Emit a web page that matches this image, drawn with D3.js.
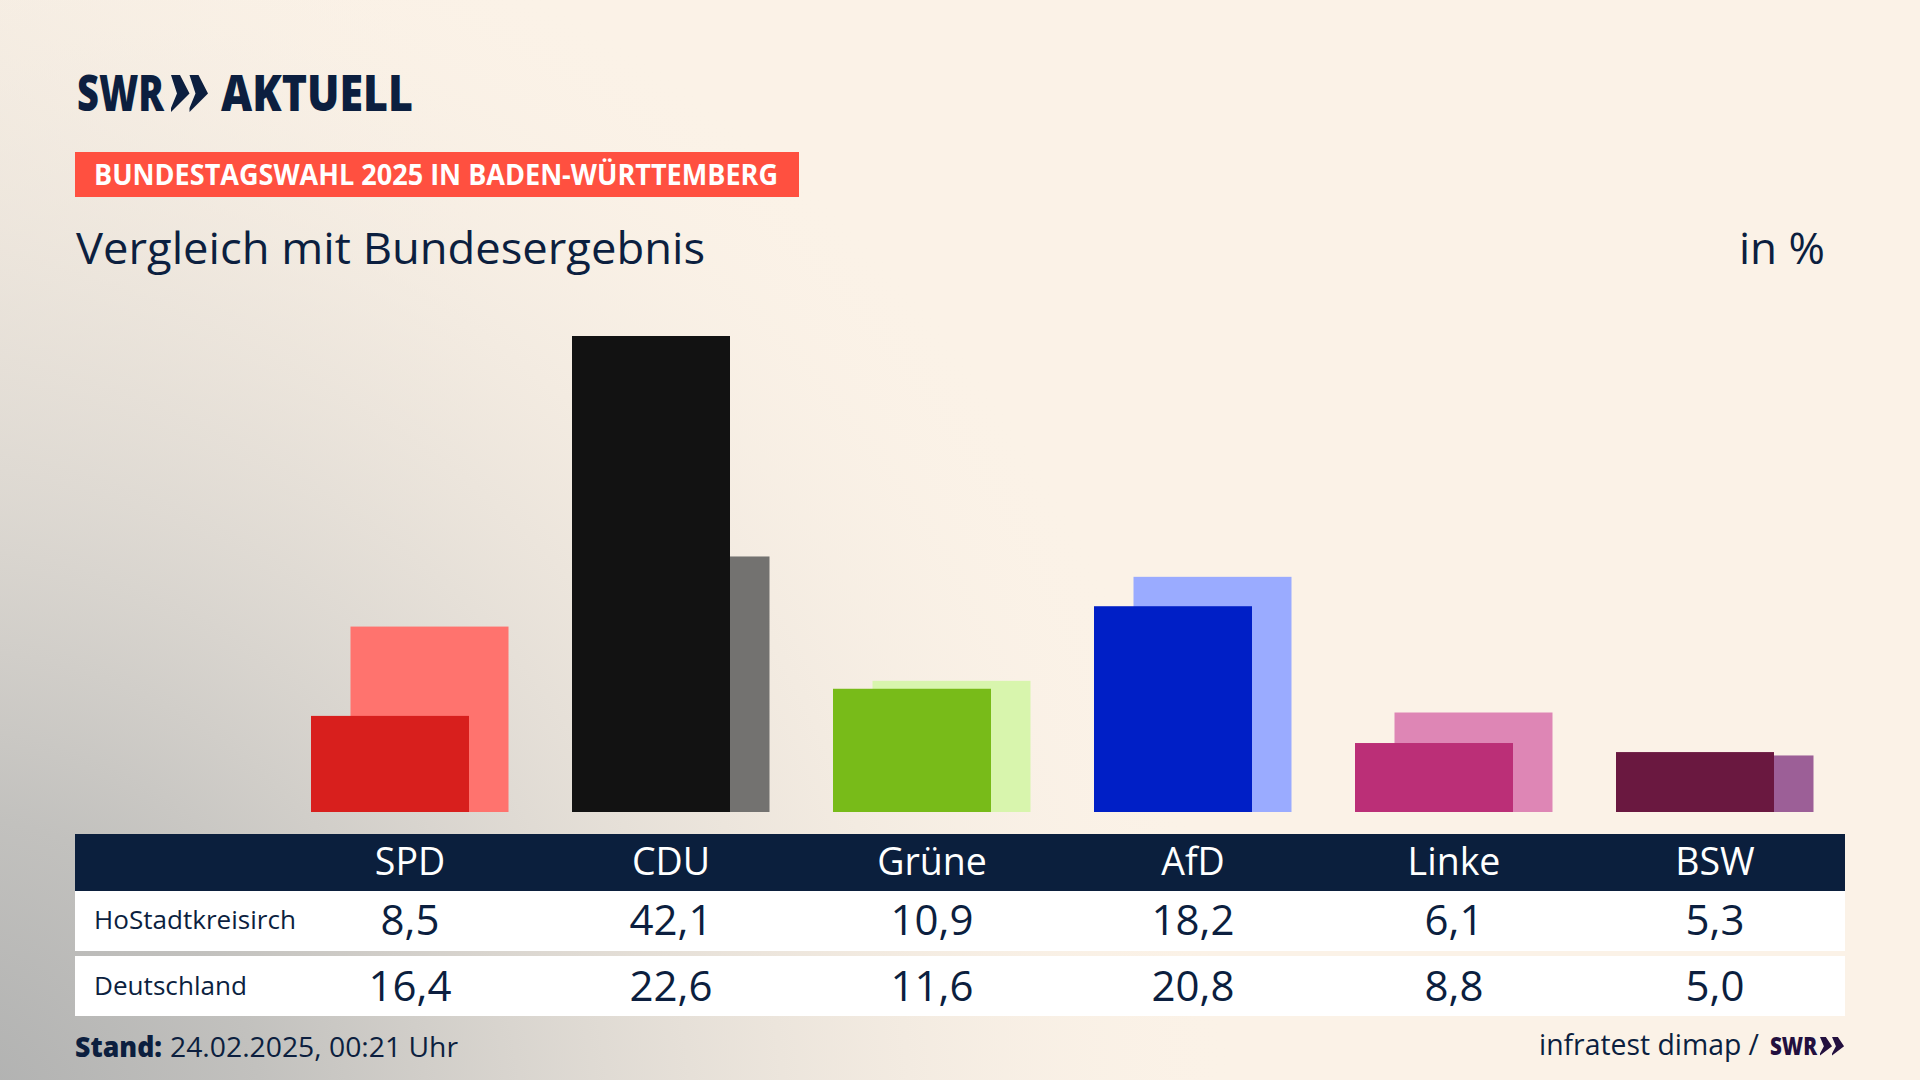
<!DOCTYPE html>
<html lang="de">
<head>
<meta charset="utf-8">
<title>Bundestagswahl 2025 in Baden-Württemberg</title>
<script src="https://cdn.jsdelivr.net/npm/d3@7"></script>
<style>
html, body { margin: 0; padding: 0; background: #fbf2e7; }
svg { display: block; }
text { font-family: "Open Sans", "Noto Sans", sans-serif; }
</style>
</head>
<body>
<div id="chart-container"></div>
<script>
var parties = ["SPD", "CDU", "Grüne", "AfD", "Linke", "BSW"];
var localValues = [8.5, 42.1, 10.9, 18.2, 6.1, 5.3];
var federalValues = [16.4, 22.6, 11.6, 20.8, 8.8, 5.0];
var localColors = ["#d81f1d", "#121212", "#78bb19", "#001fc6", "#bb2f77", "#6a1840"];
var federalColors = ["#ff736e", "#737270", "#d8f5ad", "#9aabff", "#de86b5", "#9c5f97"];
var rowLabels = ["HoStadtkreisirch", "Deutschland"];

var navy = "#0c1f3f";
var width = 1920;
var height = 1080;
var barWidth = 158;
var barOffset = 39.5;

var svg = d3.select("#chart-container").append("svg")
    .attr("width", width)
    .attr("height", height);

// Background: cream with a grey corner at the lower left
var defs = svg.append("defs");

function addGradient(id, cx, cy, r, stops) {
    var gradient = defs.append("radialGradient")
        .attr("id", id)
        .attr("gradientUnits", "userSpaceOnUse")
        .attr("cx", cx).attr("cy", cy).attr("r", r);
    stops.forEach(function(s) {
        gradient.append("stop")
            .attr("offset", s[0])
            .attr("stop-color", s[1])
            .attr("stop-opacity", s[2]);
    });
}

addGradient("cornerGrey", -60, 1140, 1300, [
    [0, "#adaeae", 1],
    [0.25, "#c2c1be", 1],
    [0.48, "#d9d5cf", 0.9],
    [0.7, "#ebe4db", 0.7],
    [1, "#fbf2e7", 0]
]);
addGradient("leftGrey", -250, 350, 760, [
    [0, "#d8d5ce", 0.7],
    [1, "#fbf2e7", 0]
]);

svg.append("rect").attr("width", width).attr("height", height).attr("fill", "#fbf2e7");
svg.append("rect").attr("width", width).attr("height", height).attr("fill", "url(#leftGrey)");
svg.append("rect").attr("width", width).attr("height", height).attr("fill", "url(#cornerGrey)");

// Scales
var x = d3.scaleBand()
    .domain(parties)
    .range([279.5, 1845.5])
    .paddingInner(63 / 261)
    .paddingOuter(63 / 522);

var y = d3.scaleLinear()
    .domain([0, 42.1])
    .range([812, 336]);

function center(party) {
    return x(party) + x.bandwidth() / 2;
}

// Bars: federal result behind, local result in front
svg.append("g").selectAll("rect")
    .data(parties)
    .enter()
    .append("rect")
    .attr("x", function(d) { return x(d) + barOffset; })
    .attr("y", function(d, i) { return y(federalValues[i]); })
    .attr("width", barWidth)
    .attr("height", function(d, i) { return y(0) - y(federalValues[i]); })
    .attr("fill", function(d, i) { return federalColors[i]; });

svg.append("g").selectAll("rect")
    .data(parties)
    .enter()
    .append("rect")
    .attr("x", function(d) { return x(d); })
    .attr("y", function(d, i) { return y(localValues[i]); })
    .attr("width", barWidth)
    .attr("height", function(d, i) { return y(0) - y(localValues[i]); })
    .attr("fill", function(d, i) { return localColors[i]; });

// Text helper, fitLength keeps the width the original typeface has
function addText(str, px, py, size, options) {
    options = options || {};
    var t = svg.append("text")
        .attr("x", px)
        .attr("y", py)
        .attr("font-size", size)
        .attr("font-weight", options.weight || 400)
        .attr("fill", options.fill || navy)
        .attr("text-anchor", options.anchor || "start")
        .text(str);
    if (options.fitLength) {
        t.attr("textLength", options.fitLength).attr("lengthAdjust", "spacingAndGlyphs");
    }
    return t;
}

function addChevrons(px, py, scaleX, scaleY, fill) {
    var shape = [[0, 0], [9, 0], [18.5, 18.5], [0, 37], [0, 33], [6, 18.5]];
    [0, 18.5].forEach(function(dx) {
        svg.append("polygon")
            .attr("points", shape.map(function(p) {
                return (px + (p[0] + dx) * scaleX) + "," + (py + p[1] * scaleY);
            }).join(" "))
            .attr("fill", fill);
    });
}

// Logo
addText("SWR", 77, 111, 50, { weight: 800, fitLength: 87 });
addChevrons(171, 75, 1, 1, navy);
addText("AKTUELL", 221, 111, 50, { weight: 800, fitLength: 192 });

// Headline
svg.append("rect").attr("x", 75).attr("y", 152).attr("width", 724).attr("height", 45).attr("fill", "#ff5040");
addText("BUNDESTAGSWAHL 2025 IN BADEN-WÜRTTEMBERG", 94, 185, 28, { weight: 700, fill: "#ffffff", fitLength: 684 });
addText("Vergleich mit Bundesergebnis", 76, 264, 43, { fitLength: 629 });
addText("in %", 1739, 264, 43, { fitLength: 86 });

// Table
svg.append("rect").attr("x", 75).attr("y", 834).attr("width", 1770).attr("height", 57).attr("fill", "#0b1f3d");
svg.append("rect").attr("x", 75).attr("y", 891).attr("width", 1770).attr("height", 60).attr("fill", "#ffffff");
svg.append("rect").attr("x", 75).attr("y", 956).attr("width", 1770).attr("height", 60).attr("fill", "#ffffff");

var fmt = d3.formatLocale({ decimal: ",", thousands: ".", grouping: [3], currency: ["", ""] }).format(".1f");

parties.forEach(function(party, i) {
    addText(party, center(party), 875, 37.5, { anchor: "middle", fill: "#ffffff" });
    addText(fmt(localValues[i]), center(party), 935, 42, { anchor: "middle" });
    addText(fmt(federalValues[i]), center(party), 1001, 42, { anchor: "middle" });
});

addText(rowLabels[0], 94, 929, 26, { fitLength: 202 });
addText(rowLabels[1], 94, 995, 26, { fitLength: 153 });

// Footer
addText("Stand:", 75, 1057, 28, { weight: 800, fitLength: 87 });
addText("24.02.2025, 00:21 Uhr", 170, 1057, 28, { fitLength: 288 });
addText("infratest dimap /", 1539, 1055, 29, { fitLength: 220 });
addText("SWR", 1770, 1055, 25, { weight: 800, fill: "#23103f", fitLength: 47 });
addChevrons(1820, 1037, 0.65, 0.5, "#23103f");
</script>
</body>
</html>
